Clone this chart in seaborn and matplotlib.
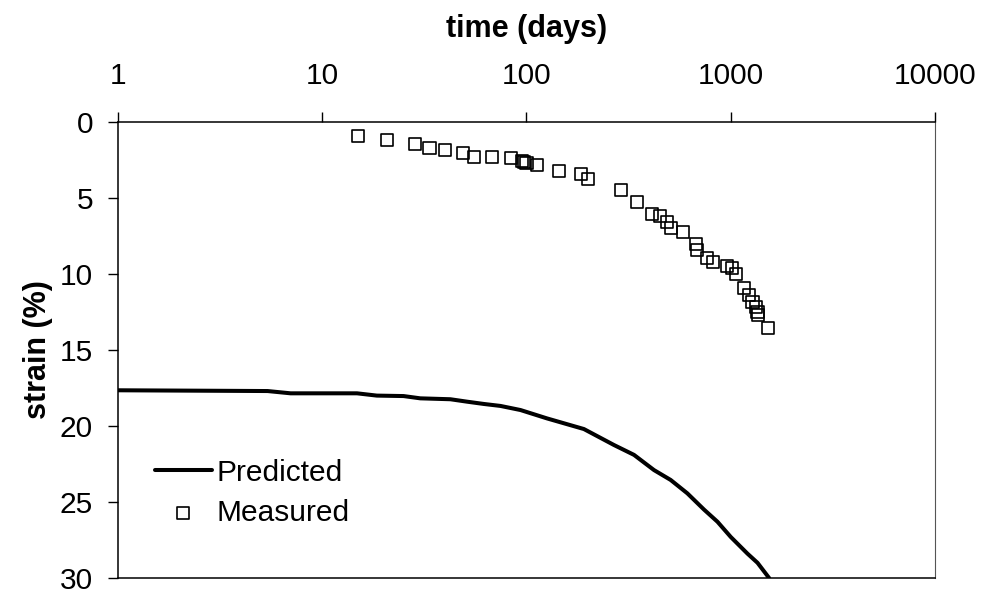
import matplotlib
matplotlib.use('Agg')
import matplotlib.pyplot as plt
import seaborn as sns
import pandas as pd

# Dados medidos (tempo em dias, deformacao em %)
measured_time = [15, 20.8, 28.6, 33.5, 40, 49, 55.6, 68, 84, 95, 97, 100, 112,
                 144, 184, 199, 289, 346, 410, 449, 489, 508, 584, 673, 687,
                 769, 823, 963, 1019, 1059, 1163, 1222, 1278, 1327, 1352, 1367, 1524]
measured_strain = [0.92, 1.18, 1.45, 1.71, 1.84, 2.04, 2.3, 2.28, 2.39, 2.58, 2.65, 2.7, 2.8,
                   3.22, 3.42, 3.72, 4.5, 5.28, 6.07, 6.18, 6.56, 6.99, 7.26, 8.05, 8.42,
                   8.93, 9.23, 9.47, 9.63, 10.0, 10.9, 11.38, 11.82, 12.15, 12.48, 12.7, 13.57]

# Curva prevista
predicted_time = [1, 5.4, 7.0, 14.8, 18.5, 25, 30.2, 42.4, 51.2, 61.8, 74.6, 93.5,
                  126, 191, 268, 336, 421, 508, 613, 740, 861, 1000, 1208, 1352, 1541]
predicted_strain = [17.65, 17.7, 17.85, 17.85, 18.0, 18.03, 18.18, 18.24, 18.4, 18.55, 18.68, 18.95,
                    19.5, 20.2, 21.25, 21.9, 22.9, 23.55, 24.43, 25.5, 26.3, 27.3, 28.4, 29.0, 30.0]

df_meas = pd.DataFrame({'time': measured_time, 'strain': measured_strain})
df_pred = pd.DataFrame({'time': predicted_time, 'strain': predicted_strain})

sns.set_theme(style="white")
plt.rcParams['font.family'] = ['Liberation Sans', 'DejaVu Sans']
plt.rcParams['text.color'] = 'black'
plt.rcParams['axes.labelcolor'] = 'black'
plt.rcParams['xtick.color'] = 'black'
plt.rcParams['ytick.color'] = 'black'

fig = plt.figure(figsize=(9.87, 5.95), dpi=100)
ax = fig.add_axes([118 / 987, 1 - 578 / 595, (935 - 118) / 987, (578 - 122) / 595])

sns.lineplot(data=df_pred, x='time', y='strain', ax=ax, color='black', linewidth=2.9,
             label='Predicted', sort=False)
sns.scatterplot(data=df_meas, x='time', y='strain', ax=ax, marker='s', s=75,
                facecolor='none', edgecolor='black', linewidth=1.2, label='Measured', zorder=3)

ax.set_xscale('log')
ax.set_xlim(1, 10000)
ax.set_ylim(30, 0)
ax.set_yticks([0, 5, 10, 15, 20, 25, 30])
ax.set_xticks([1, 10, 100, 1000, 10000])
ax.set_xticklabels(['1', '10', '100', '1000', '10000'])
ax.xaxis.set_minor_locator(matplotlib.ticker.NullLocator())

ax.xaxis.tick_top()
ax.xaxis.set_label_position('top')
ax.tick_params(axis='x', direction='out', length=7, width=1, color='black',
               labelsize=21.5, pad=16, top=True, bottom=False)
ax.tick_params(axis='y', direction='out', length=7, width=1, color='black',
               labelsize=21.5, pad=11, left=True)

ax.set_xlabel('time (days)', fontsize=22, fontweight='bold', labelpad=18)
ax.set_ylabel('strain (%)', fontsize=22, fontweight='bold', labelpad=5)

for side in ['left', 'top', 'right', 'bottom']:
    ax.spines[side].set_visible(True)
    ax.spines[side].set_color('black')
    ax.spines[side].set_linewidth(1.1)
ax.spines['right'].set_color('#555555')
ax.spines['right'].set_linewidth(0.8)

leg = ax.legend(loc='upper left', bbox_to_anchor=(140 / 987, 1 - 444 / 595),
                bbox_transform=fig.transFigure, frameon=False, fontsize=21.5,
                handlelength=1.9, handletextpad=0.15, labelspacing=0.4, borderpad=0)

plt.savefig('out.png', dpi=100)
